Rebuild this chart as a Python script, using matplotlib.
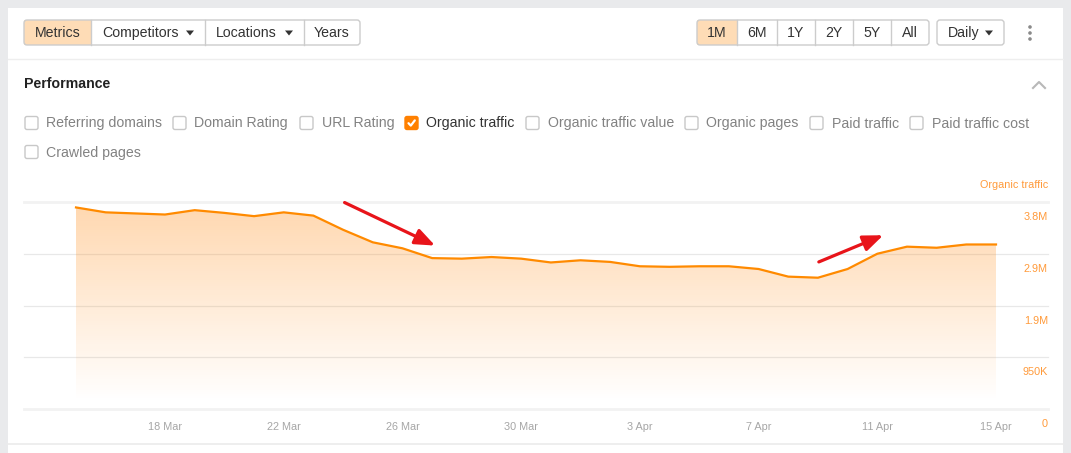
import matplotlib
matplotlib.use("Agg")
import matplotlib.pyplot as plt
import matplotlib.dates as mdates
from matplotlib.patches import Rectangle, FancyBboxPatch, Polygon, Circle
from matplotlib import transforms
import numpy as np
import pandas as pd

plt.rcParams["font.family"] = ["Liberation Sans", "DejaVu Sans"]

# ---- data ----
dates = pd.date_range("2023-03-15", "2023-04-15", freq="D")
traffic = [3.70, 3.61, 3.59, 3.57, 3.65, 3.60, 3.54, 3.61, 3.55, 3.29,
           3.06, 2.95, 2.77, 2.76, 2.79, 2.76, 2.69, 2.73, 2.70, 2.62,
           2.61, 2.62, 2.62, 2.57, 2.43, 2.41, 2.57, 2.85, 2.98, 2.96,
           3.02, 3.02]  # millions
traffic = np.array(traffic) * 1e6

y_ticks = [0, 950000, 1900000, 2850000, 3800000]
y_labels = ["0", "950K", "1.9M", "2.9M", "3.8M"]
x_tick_dates = pd.to_datetime(["2023-03-18", "2023-03-22", "2023-03-26", "2023-03-30",
                               "2023-04-03", "2023-04-07", "2023-04-11", "2023-04-15"])
x_labels = ["18 Mar", "22 Mar", "26 Mar", "30 Mar", "3 Apr", "7 Apr", "11 Apr", "15 Apr"]

metric_tabs = ["Metrics", "Competitors", "Locations", "Years"]
range_tabs = ["1M", "6M", "1Y", "2Y", "5Y", "All"]
checkboxes = ["Referring domains", "Domain Rating", "URL Rating", "Organic traffic",
              "Organic traffic value", "Organic pages", "Paid traffic", "Paid traffic cost",
              "Crawled pages"]
checked = "Organic traffic"

W, H = 1071, 453
ORANGE = "#ff8a00"
PEACH = "#fedcb6"
DARK = "#333333"

fig = plt.figure(figsize=(W / 100, H / 100), dpi=100)
fig.patch.set_facecolor("#e9eaec")

# background / UI axes in pixel coordinates
bg = fig.add_axes([0, 0, 1, 1])
bg.set_xlim(0, W)
bg.set_ylim(H, 0)
bg.axis("off")
bg.add_patch(Rectangle((8, 8), 1055, H, facecolor="white", edgecolor="none"))
bg.plot([8, 1063], [58.5, 58.5], color="#eeeeee", lw=1)
bg.plot([8, 1063], [443.5, 443.5], color="#ebebeb", lw=1.2)


def tri(x, y):
    bg.add_patch(Polygon([(x - 4, y - 2), (x + 4, y - 2), (x, y + 3)], closed=True,
                         facecolor="#333333", edgecolor="none"))


def button_group(edges, labels, active, arrows=(), y0=20, y1=45):
    for i, lab in enumerate(labels):
        xa, xb = edges[i], edges[i + 1]
        if i == active:
            bg.add_patch(Rectangle((xa, y0), xb - xa, y1 - y0, facecolor=PEACH, edgecolor="none"))
        if i > 0:
            bg.plot([xa, xa], [y0, y1], color="#cccccc", lw=1)
        if lab in arrows:
            bg.text(xa + 11, (y0 + y1) / 2 + 0.5, lab, ha="left", va="center",
                    fontsize=10.2, color=DARK)
            tri(xb - 15, (y0 + y1) / 2)
        else:
            bg.text((xa + xb) / 2, (y0 + y1) / 2 + 0.5, lab, ha="center", va="center",
                    fontsize=10.2, color=DARK)
    bg.add_patch(FancyBboxPatch((edges[0], y0), edges[-1] - edges[0], y1 - y0,
                                boxstyle="round,pad=0,rounding_size=3",
                                facecolor="none", edgecolor="#cccccc", lw=1))


button_group([24, 91, 205, 304, 360], metric_tabs, 0, arrows=("Competitors", "Locations"))
button_group([697, 737, 777, 815, 853, 891, 929], range_tabs, 0)
button_group([937, 1004], ["Daily"], -1, arrows=("Daily",))

for yy in (27, 33, 39):
    bg.add_patch(Circle((1030, yy), 1.8, facecolor="#8a8a8a", edgecolor="none"))

bg.text(24, 84, "Performance", ha="left", va="center", fontsize=10.2,
        fontweight="bold", color="#222222")
bg.plot([1033, 1039, 1045], [88, 82, 88], color="#b8b8b8", lw=1.5)

box_x = [25, 173, 300, 405, 526, 685, 810, 910, 25]
box_y = [123, 123, 123, 123, 123, 123, 123, 123, 152]
for lab, bx, by in zip(checkboxes, box_x, box_y):
    if lab == checked:
        bg.add_patch(FancyBboxPatch((bx, by - 6.5), 13, 13, boxstyle="round,pad=0,rounding_size=2",
                                    facecolor="#ff8000", edgecolor="#ff8000", lw=1))
        bg.plot([bx + 3.5, bx + 5.8, bx + 9.8], [by + 0.2, by + 2.6, by - 2.6],
                color="white", lw=1.6, solid_capstyle="round")
        col = DARK
    else:
        bg.add_patch(FancyBboxPatch((bx, by - 6.5), 13, 13, boxstyle="round,pad=0,rounding_size=2",
                                    facecolor="white", edgecolor="#c8c8c8", lw=1))
        col = "#828282"
    bg.text(bx + 21.5, by + 0.5, lab, ha="left", va="center", fontsize=10.2, color=col)

# ---- chart ----
x0 = mdates.date2num(dates[0])
x1 = mdates.date2num(dates[-1])
px_per_day = (996 - 76) / 31.0
ax = fig.add_axes([24 / W, (H - 409) / H, (1048 - 24) / W, (409 - 202) / H])
ax.set_facecolor("none")
ax.set_xlim(x0 - (76 - 24) / px_per_day, x0 + (1048 - 76) / px_per_day)
ax.set_ylim(0, 3.8e6)
for s in ax.spines.values():
    s.set_visible(False)

for v in y_ticks:
    edge = v in (y_ticks[0], y_ticks[-1])
    ax.axhline(v, color="#f2f2f2" if edge else "#e8e8e8", lw=2 if edge else 0.9,
               zorder=0, clip_on=False)

xs = mdates.date2num(dates)
ax.plot(xs, traffic, color=ORANGE, lw=1.6, zorder=3, solid_joinstyle="round")

# gradient fill under the line
vals = np.linspace(0, 3.8e6, 256)
alpha = 0.36 * np.clip((vals - 0.15e6) / 3.65e6, 0, 1)
grad = np.zeros((256, 2, 4))
grad[..., 0] = 1.0
grad[..., 1] = 0.565
grad[..., 2] = 0.125
grad[..., 3] = alpha[:, None]
clip = Polygon([(x0, 0)] + list(zip(xs, traffic)) + [(x1, 0)], closed=True,
               facecolor="none", edgecolor="none")
ax.add_patch(clip)
im = ax.imshow(grad, extent=[x0, x1, 0, 3.8e6], origin="lower", aspect="auto",
               interpolation="bilinear", zorder=2)
im.set_clip_path(clip)

ax.set_xticks(mdates.date2num(x_tick_dates))
ax.set_xticklabels(x_labels)
ax.tick_params(axis="x", length=0, pad=9, labelsize=7.8, labelcolor="#a6a6a6")
ax.set_yticks([])

off = transforms.offset_copy(ax.get_yaxis_transform(), fig=fig, x=0, y=-15, units="dots")
for v, lab in zip(y_ticks, y_labels):
    ax.text(1.0, v, lab, transform=off, ha="right", va="center", fontsize=7.8, color="#ff9a3a")
ax.text(1.0, 3.8e6, "Organic traffic", transform=transforms.offset_copy(
    ax.get_yaxis_transform(), fig=fig, x=0, y=17, units="dots"),
    ha="right", va="center", fontsize=7.8, color="#ff9a3a")

# red annotation arrows
arrow = dict(arrowstyle="-|>,head_length=1.0,head_width=0.4", color="#e8141a",
             lw=2.3, shrinkA=0, shrinkB=0, mutation_scale=12)
ax.annotate("", xy=(x0 + 12.1, 3.0e6), xytext=(x0 + 9.05, 3.79e6),
            arrowprops=arrow, annotation_clip=False, zorder=5)
ax.annotate("", xy=(x0 + 27.2, 3.19e6), xytext=(x0 + 25.03, 2.70e6),
            arrowprops=arrow, annotation_clip=False, zorder=5)

fig.savefig("out.png", dpi=100, facecolor=fig.get_facecolor())
